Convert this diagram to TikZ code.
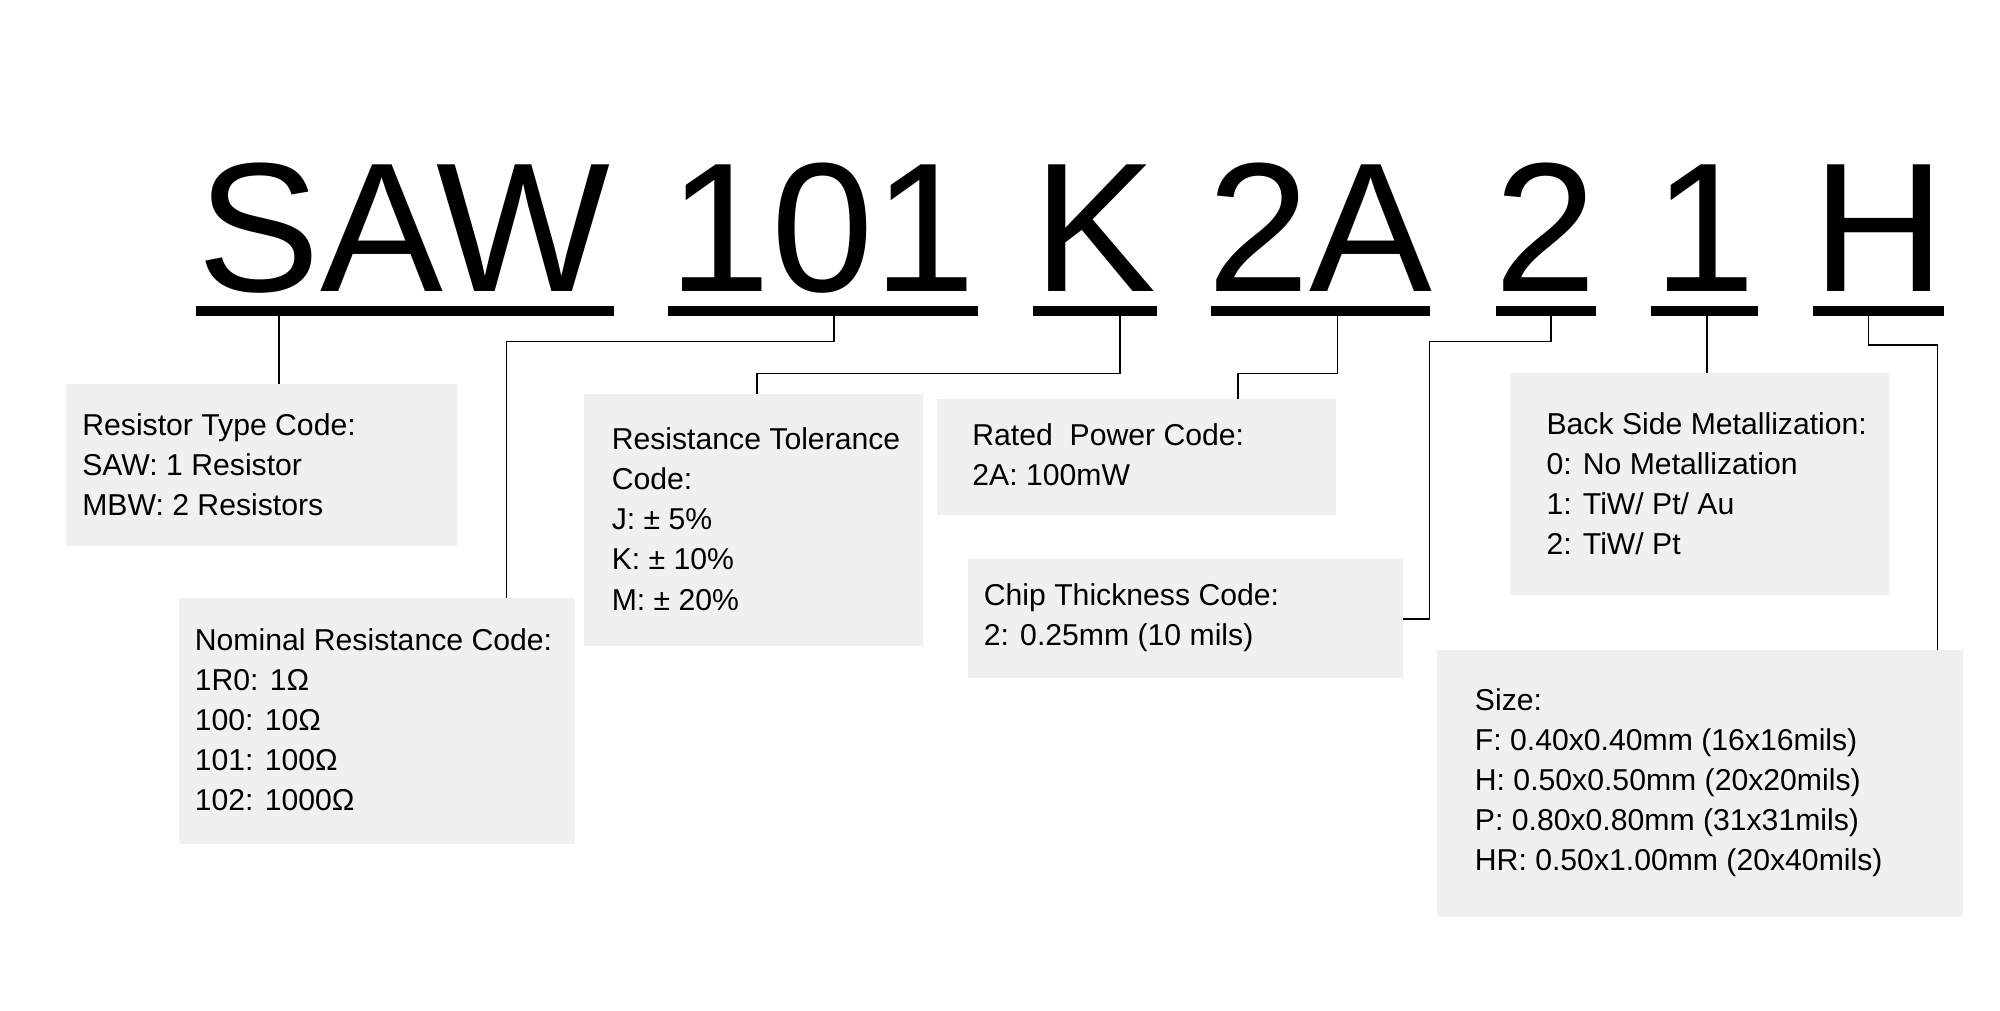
\documentclass[tikz,border=0pt]{standalone}
\usepackage{fontspec}
\setmainfont{Liberation Sans}
\begin{document}
\begin{tikzpicture}[x=0.5pt,y=-0.5pt,
  big/.style={anchor=base,font=\fontsize{72}{72}\selectfont,inner sep=0},
  ul/.style={line width=4pt},
  box/.style={fill=black!6,draw=none},
  txt/.style={anchor=north west,align=left,inner sep=0,font=\fontsize{11.8}{15.7}\selectfont},
  con/.style={line width=0.6pt}]
\useasboundingbox (0,0) rectangle (1564,790);
% big code letters
\node[big] (tSAW) at (316,228) {SAW};
\node[big] (t101) at (643,228) {101};
\node[big] (tK) at (856,228) {K};
\node[big] (t2A) at (1032,228) {2A};
\node[big] (t2) at (1209,228) {2};
\node[big] (t1) at (1333,228) {1};
\node[big] (tH) at (1469,228) {H};
% underlines
\draw[ul] (153,243) -- (480,243);
\draw[ul] (522,243) -- (765,243);
\draw[ul] (808,243) -- (905,243);
\draw[ul] (947,243) -- (1118,243);
\draw[ul] (1170,243) -- (1248,243);
\draw[ul] (1291,243) -- (1375,243);
\draw[ul] (1418,243) -- (1520,243);
\coordinate (uSAW) at (218,247);
\coordinate (u101) at (652,247);
\coordinate (uK) at (876,247);
\coordinate (u2A) at (1046,247);
\coordinate (u2) at (1213,247);
\coordinate (u1) at (1335,247);
\coordinate (uH) at (1461,247);
% boxes
\fill[box] (52,300) rectangle (357,427);
\fill[box] (140,468) rectangle (450,660);
\fill[box] (457,308) rectangle (722,505);
\fill[box] (733,312) rectangle (1045,403);
\fill[box] (757,437) rectangle (1097,530);
\fill[box] (1181,292) rectangle (1477,465);
\fill[box] (1124,508) rectangle (1535,717);
\coordinate (b1) at (218,300);
\coordinate (b2) at (396,468);
\coordinate (b3) at (592,308);
\coordinate (b4) at (968,312);
\coordinate (b5) at (1097,484);
\coordinate (b6) at (1335,292);
\coordinate (b7) at (1515,508);
% connectors
\draw[con] (uSAW) -- (b1);
\draw[con] (u101) -- ++(0,20) -| (b2);
\draw[con] (uK) -- ++(0,45) -| (b3);
\draw[con] (u2A) -- ++(0,45) -| (b4);
\draw[con] (u2) -- ++(0,20) -| (1118,484) -- (b5);
\draw[con] (u1) -- (b6);
\draw[con] (uH) -- ++(0,23) -| (b7);
% texts
\node[txt] (x1) at (64,323) {Resistor Type Code:\\SAW: 1 Resistor\\MBW: 2 Resistors};
\node[txt] (x2) at (152,491) {Nominal Resistance Code:\\1R0: 1Ω\\100: 10Ω\\101: 100Ω\\102: 1000Ω};
\node[txt] (x3) at (478,334) {Resistance Tolerance\\Code:\\J: ± 5\%\\K: ± 10\%\\M: ± 20\%};
\node[txt] (x4) at (760,331) {Rated\ \ Power Code:\\2A: 100mW};
\node[txt] (x5) at (769,456) {Chip Thickness Code:\\2: 0.25mm (10 mils)};
\node[txt] (x6) at (1209,322) {Back Side Metallization:\\0: No Metallization\\1: TiW/ Pt/ Au\\2: TiW/ Pt};
\node[txt] (x7) at (1153,538) {Size:\\F: 0.40x0.40mm (16x16mils)\\H: 0.50x0.50mm (20x20mils)\\P: 0.80x0.80mm (31x31mils)\\HR: 0.50x1.00mm (20x40mils)};
\end{tikzpicture}
\end{document}
